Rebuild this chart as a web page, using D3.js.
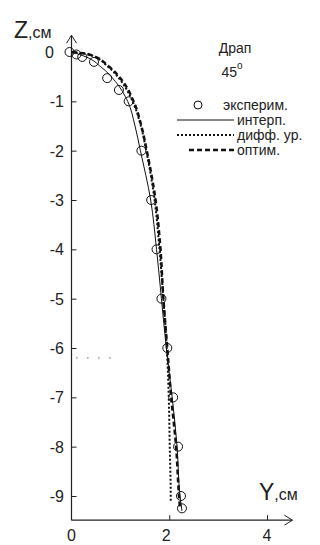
<!DOCTYPE html>
<html lang="ru">
<head>
<meta charset="utf-8">
<script src="https://d3js.org/d3.v7.min.js"></script>
<style>
  body { margin: 0; background: #fff; }
  svg { display: block; }
  text { font-family: "Liberation Sans", Arial, sans-serif; fill: #222; }
</style>
</head>
<body>
<svg width="320" height="545"></svg>
<script>
// experimental points (Y, Z in cm)
var expY = [-0.04, 0.1, 0.22, 0.46, 0.73, 0.97, 1.17, 1.43, 1.63, 1.74, 1.84, 1.96, 2.08, 2.18, 2.24, 2.26];
var expZ = [0, -0.05, -0.1, -0.2, -0.53, -0.77, -1.0, -2, -3, -4, -5, -6, -7, -8, -9, -9.25];

// interpolation (solid)
var interpY = [0, 0.3, 0.6, 0.9, 1.15, 1.3, 1.41, 1.62, 1.74, 1.84, 1.94, 2.06, 2.16, 2.22, 2.26];
var interpZ = [0, -0.1, -0.3, -0.6, -1, -1.5, -2, -3, -4, -5, -6, -7, -8, -9, -9.3];

// differential equation (dotted)
var diffY = [0, 0.35, 0.75, 1.0, 1.25, 1.42, 1.53, 1.7, 1.8, 1.88, 1.95, 1.99, 2.01, 2.03, 2.03];
var diffZ = [0, -0.05, -0.3, -0.57, -1, -1.5, -2, -3, -4, -5, -6, -7, -8, -9, -9.1];

// optimisation (dashed)
var optY = [0, 0.36, 0.77, 1.03, 1.27, 1.43, 1.54, 1.72, 1.82, 1.88, 1.96, 2.04, 2.14, 2.2, 2.22];
var optZ = [0, -0.05, -0.3, -0.57, -1, -1.5, -2, -3, -4, -5, -6, -7, -8, -9, -9.25];

// stray dotted mark left of the curve
var strayY = [0.1, 0.8];
var strayZ = [-6.2, -6.2];

var zTicks = [0, -1, -2, -3, -4, -5, -6, -7, -8, -9];
var yTicks = [0, 2, 4];

var svg = d3.select("svg");

var x = d3.scaleLinear().domain([0, 4]).range([71.5, 267]);
var y = d3.scaleLinear().domain([0, -9]).range([52, 496]);

function pts(a, b) { return a.map(function (v, i) { return [v, b[i]]; }); }
var line = d3.line().x(function (d) { return x(d[0]); }).y(function (d) { return y(d[1]); }).curve(d3.curveMonotoneY);
var straight = d3.line().x(function (d) { return x(d[0]); }).y(function (d) { return y(d[1]); });

// axes
var yAxis = svg.append("g")
  .attr("transform", "translate(" + x(0) + ",0)")
  .call(d3.axisRight(y).tickValues(zTicks).tickSize(5).tickFormat(""));
yAxis.select(".domain").remove();
yAxis.selectAll("line").attr("stroke", "#222");

var xAxis = svg.append("g")
  .attr("transform", "translate(0," + y(-9.49) + ")")
  .call(d3.axisTop(x).tickValues(yTicks.filter(function (d) { return d > 0; })).tickSize(5).tickFormat(""));
xAxis.select(".domain").remove();
xAxis.selectAll("line").attr("stroke", "#222");

// axis lines with arrows
svg.append("line").attr("x1", x(0)).attr("x2", x(0)).attr("y1", y(0.34)).attr("y2", y(-9.49))
  .attr("stroke", "#222").attr("stroke-width", 1.2);
svg.append("line").attr("x1", x(0)).attr("x2", x(4.52)).attr("y1", y(-9.49)).attr("y2", y(-9.49))
  .attr("stroke", "#222").attr("stroke-width", 1.2);
svg.append("path")
  .attr("d", "M" + (x(0) - 5) + "," + (y(0.34) + 8) + "L" + x(0) + "," + y(0.34) + "L" + (x(0) + 5) + "," + (y(0.34) + 8))
  .attr("fill", "none").attr("stroke", "#222");
svg.append("path")
  .attr("d", "M" + (x(4.52) - 8) + "," + (y(-9.49) - 5) + "L" + x(4.52) + "," + y(-9.49) + "L" + (x(4.52) - 8) + "," + (y(-9.49) + 5))
  .attr("fill", "none").attr("stroke", "#222");

// tick labels
svg.append("g").selectAll("text").data(zTicks).join("text")
  .attr("x", function (d) { return d === 0 ? 54 : 64; })
  .attr("y", function (d) { return y(d) + 6; })
  .attr("text-anchor", "end")
  .style("font-size", "16px")
  .text(function (d) { return d; });

svg.append("g").selectAll("text").data(yTicks).join("text")
  .attr("x", function (d) { return x(d) - (d === 2 ? 3 : 0); })
  .attr("y", 541)
  .attr("text-anchor", "middle")
  .style("font-size", "16px")
  .text(function (d) { return d; });

// axis titles
var zt = svg.append("text").attr("x", 14).attr("y", 38);
zt.append("tspan").style("font-size", "23px").text("Z");
zt.append("tspan").style("font-size", "16px").text(",см");
var yt = svg.append("text").attr("x", 259).attr("y", 500);
yt.append("tspan").style("font-size", "23px").text("Y");
yt.append("tspan").style("font-size", "16px").text(",см");

// curves
svg.append("path").attr("d", line(pts(interpY, interpZ)))
  .attr("fill", "none").attr("stroke", "#111").attr("stroke-width", 1);
svg.append("path").attr("d", line(pts(diffY, diffZ)))
  .attr("fill", "none").attr("stroke", "#111").attr("stroke-width", 2).attr("stroke-dasharray", "2,2");
svg.append("path").attr("d", line(pts(optY, optZ)))
  .attr("fill", "none").attr("stroke", "#111").attr("stroke-width", 2.5).attr("stroke-dasharray", "5,3");
svg.append("path").attr("d", straight(pts(strayY, strayZ)))
  .attr("fill", "none").attr("stroke", "#444").attr("stroke-width", 1.2).attr("stroke-dasharray", "1,10");

// experimental points
svg.append("g").selectAll("circle").data(pts(expY, expZ)).join("circle")
  .attr("cx", function (d) { return x(d[0]); })
  .attr("cy", function (d) { return y(d[1]); })
  .attr("r", 4.5)
  .attr("fill", "none").attr("stroke", "#111").attr("stroke-width", 1);

// legend
svg.append("text").attr("x", 235).attr("y", 53).attr("text-anchor", "middle")
  .style("font-size", "14px").text("Драп");
var deg = svg.append("text").attr("x", 232).attr("y", 77).attr("text-anchor", "middle").style("font-size", "14px");
deg.append("tspan").text("45");
deg.append("tspan").attr("dy", -8).style("font-size", "10px").text("o");

var lg = svg.append("g");
lg.append("circle").attr("cx", 198).attr("cy", 105).attr("r", 4).attr("fill", "none").attr("stroke", "#111");
lg.append("text").attr("x", 223).attr("y", 110).style("font-size", "14px").text("эксперим.");
lg.append("line").attr("x1", 177).attr("x2", 234).attr("y1", 120).attr("y2", 120).attr("stroke", "#111");
lg.append("text").attr("x", 237).attr("y", 125).style("font-size", "14px").text("интерп.");
lg.append("line").attr("x1", 177).attr("x2", 234).attr("y1", 135).attr("y2", 135)
  .attr("stroke", "#111").attr("stroke-width", 2).attr("stroke-dasharray", "2,2");
lg.append("text").attr("x", 237).attr("y", 140).style("font-size", "14px").text("дифф. ур.");
lg.append("line").attr("x1", 189).attr("x2", 234).attr("y1", 150).attr("y2", 150)
  .attr("stroke", "#111").attr("stroke-width", 2.5).attr("stroke-dasharray", "5,3");
lg.append("text").attr("x", 237).attr("y", 155).style("font-size", "14px").text("оптим.");
</script>
</body>
</html>
